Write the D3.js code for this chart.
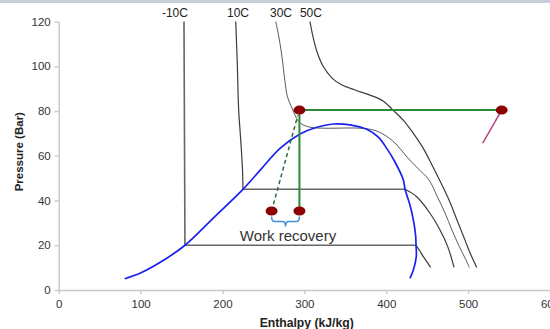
<!DOCTYPE html>
<html>
<head>
<meta charset="utf-8">
<style>
    body {
        margin: 0;
        background: #fff;
    }

    svg {
        display: block;
        font-family: "Liberation Sans", Arial, sans-serif;
    }

    .axis .domain,
    .axis .tick line {
        stroke: #cacaca;
        stroke-width: 1.5;
    }

    .axis .tick text {
        font-size: 11.5px;
        fill: #333;
    }

    .axis-title {
        font-size: 11.5px;
        font-weight: bold;
        fill: #222;
        text-anchor: middle;
    }

    .iso {
        fill: none;
        stroke: #3c3c3c;
        stroke-width: 1.2;
    }

    .iso.flat {
        stroke: #666;
        stroke-width: 1.6;
    }

    .iso-label {
        font-size: 12px;
        fill: #222;
        text-anchor: middle;
    }

    .dome {
        fill: none;
        stroke: #1a22f0;
        stroke-width: 1.7;
    }
</style>
</head>

<body>
<svg width="550" height="329"></svg>

<script src="https://d3js.org/d3.v7.min.js"></script>

<script>
    // axis ticks
    let xTicks = [0, 100, 200, 300, 400, 500, 600]
    let yTicks = [0, 20, 40, 60, 80, 100, 120]

    // saturation dome  [enthalpy kJ/kg, pressure bar]
    let dome = [
        [80.6, 5.05], [100.5, 7.7], [131.9, 14.2], [154.2, 20], [189.7, 32.5],
        [225, 45], [248.3, 54.5], [270.3, 63.3], [294.7, 69.7], [314.2, 72.6],
        [335.4, 74.2], [355.8, 73.8], [376.2, 71.8], [390, 68.4], [400.6, 63.3],
        [410.7, 57.2], [420.9, 49.2], [423, 45], [429, 38], [433.1, 31.3],
        [435.8, 24.6], [436.4, 20], [436.7, 14.9], [433.1, 8.9], [429, 5.2]
    ]

    // isotherms, each a list of pieces
    let isoNames = ["-10C", "10C", "30C", "50C"]
    let isoLabelH = [142, 219, 271.5, 308]

    let isoM10 = [
        [[153, 120], [154.2, 20]],
        [[154.2, 20], [436.4, 20]],
        [[436.4, 20], [440.6, 17.7], [445.3, 14.9], [454.3, 10.1]]
    ]
    let iso10 = [
        [[216.2, 120], [218.2, 100], [219.8, 80.4], [222.3, 67], [224.5, 53.6], [225, 45]],
        [[225, 45], [423, 45]],
        [[423, 45], [437.2, 41.7], [453.5, 34.3], [465.7, 26.8], [475.1, 19.4], [482.8, 10.1]]
    ]
    let iso30 = [
        [[265, 120], [268.4, 114], [271.5, 107.3], [273.9, 100.6], [276.4, 93], [279.4, 86.3],
         [284.3, 81.8], [288.6, 78.2], [292.9, 75.3], [299.6, 73.6], [309.4, 72.6], [325.2, 72.3],
         [368, 72.3], [386.3, 71.3], [400.9, 68.6], [413.1, 64.8], [425.4, 59.4], [438.8, 54.3],
         [452.2, 49.2], [462, 42], [471.8, 34.4], [480.3, 26.8], [488.9, 19.7], [496.2, 14.3],
         [501.5, 10.1]]
    ]
    let iso50 = [
        [[306.9, 120], [310.6, 113.1], [315.5, 106.4], [322.8, 100.1], [333.8, 94.7], [346, 91.6],
         [361.9, 89.4], [380.2, 87.1], [396.1, 84.5], [408.3, 80.4], [420.5, 76], [432.7, 70.2],
         [444.9, 63.5], [455.9, 55.9], [466.9, 47.8], [476.7, 40.2], [486.4, 31.3], [496.2, 22.3],
         [503.5, 15.6], [510.5, 10.1]]
    ]
    let isotherms = [isoM10, iso10, iso30, iso50]

    // CO2 cycle with work recovery
    let gasCooler = [[294, 80.4], [541, 80.4]]
    let expansion = [[294, 80.4], [294, 35.3]]
    let expanderLine = [[260, 35.3], [292, 78]]
    let compressorIn = [[541, 80.4], [517.8, 65.6]]
    let cycleDots = [[294, 80.4], [541, 80.4], [260, 35.3], [294, 35.3]]
    let braceH = [260, 294]
    let braceP = 35.3
    let braceText = "Work recovery"

    let width = 550
    let height = 329
    let margin = { top: 21.5, right: 0, bottom: 39, left: 58.7 }

    let svg = d3.select("svg")

    svg.append("rect")
        .attr("x", 0)
        .attr("y", 0)
        .attr("width", width)
        .attr("height", 3)
        .attr("fill", "#c9ccd9")

    let x = d3.scaleLinear()
        .domain([0, 600])
        .range([margin.left, width - margin.right])

    let y = d3.scaleLinear()
        .domain([0, 120])
        .range([height - margin.bottom, margin.top])

    svg.append("g")
        .attr("class", "x axis")
        .attr("transform", `translate(0,${y(0)})`)
        .call(d3.axisBottom(x).tickValues(xTicks).tickSize(4).tickSizeOuter(0).tickPadding(6))

    svg.append("g")
        .attr("class", "y axis")
        .attr("transform", `translate(${x(0)},0)`)
        .call(d3.axisLeft(y).tickValues(yTicks).tickSize(4).tickSizeOuter(0).tickPadding(4))

    svg.append("text")
        .attr("class", "axis-title")
        .attr("x", 306.7)
        .attr("y", 326.5)
        .style("font-size", "12.2px")
        .text("Enthalpy (kJ/kg)")

    svg.append("text")
        .attr("class", "axis-title")
        .attr("transform", "translate(22.5,151.7) rotate(-90)")
        .text("Pressure (Bar)")

    let line = d3.line()
        .x(d => x(d[0]))
        .y(d => y(d[1]))

    let smooth = d3.line()
        .x(d => x(d[0]))
        .y(d => y(d[1]))
        .curve(d3.curveCatmullRom.alpha(0.5))

    // isotherms
    let isoG = svg.append("g")
    isotherms.forEach(function (pieces, i) {
        pieces.forEach(function (pts) {
            let flat = pts.length == 2
            isoG.append("path")
                .attr("class", flat ? "iso flat" : "iso")
                .attr("d", flat ? line(pts) : smooth(pts))
                .style("stroke", i == 2 && !flat ? "#5a5a5a" : null)
                .style("stroke-width", i == 2 && !flat ? 1 : null)
        })
    })

    svg.selectAll(".iso-label")
        .data(isoNames)
        .join("text")
        .attr("class", "iso-label")
        .attr("x", (d, i) => x(isoLabelH[i]))
        .attr("y", y(120) - 4.5)
        .text(d => d)

    // saturation dome
    svg.append("path")
        .attr("class", "dome")
        .attr("d", smooth(dome))

    // cycle
    svg.append("path")
        .attr("d", line(expanderLine))
        .attr("fill", "none")
        .attr("stroke", "#2e6b45")
        .attr("stroke-width", 1.5)
        .attr("stroke-dasharray", "4,3")

    svg.append("path")
        .attr("d", line(compressorIn))
        .attr("fill", "none")
        .attr("stroke", "#b5457f")
        .attr("stroke-width", 1.5)

    ;[gasCooler, expansion].forEach(function (seg) {
        svg.append("path")
            .attr("d", line(seg))
            .attr("fill", "none")
            .attr("stroke", "#2b8a3a")
            .attr("stroke-width", 2)
    })

    svg.selectAll(".dot")
        .data(cycleDots)
        .join("ellipse")
        .attr("class", "dot")
        .attr("cx", d => x(d[0]))
        .attr("cy", d => y(d[1]))
        .attr("rx", 6)
        .attr("ry", 4.5)
        .attr("fill", "#8b0000")

    // brace under the two expansion end points
    let bx1 = x(braceH[0])
    let bx2 = x(braceH[1])
    let bm = (bx1 + bx2) / 2
    let b0 = y(braceP) + 5.5
    let b1 = b0 + 5
    let b2 = b1 + 5
    svg.append("path")
        .attr("d", `M${bx1},${b0} Q${bx1},${b1} ${bx1 + 3},${b1} L${bm - 3},${b1} Q${bm},${b1} ${bm},${b2}`
            + ` Q${bm},${b1} ${bm + 3},${b1} L${bx2 - 3},${b1} Q${bx2},${b1} ${bx2},${b0}`)
        .attr("fill", "none")
        .attr("stroke", "#3f8fd8")
        .attr("stroke-width", 1.5)

    svg.append("text")
        .attr("x", bm + 2.5)
        .attr("y", b2 + 14.3)
        .attr("text-anchor", "middle")
        .style("font-size", "15px")
        .style("fill", "#333")
        .text(braceText)
</script>
</body>
</html>
